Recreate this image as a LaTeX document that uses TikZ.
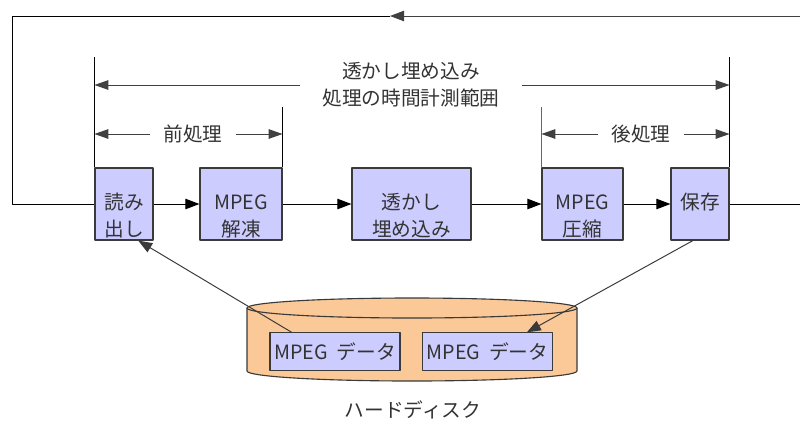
\documentclass[tikz,border=0pt]{standalone}
\usepackage{fontspec}
\setmainfont{Noto Sans CJK JP}
\usetikzlibrary{arrows.meta,calc}
\definecolor{boxfill}{HTML}{CCCCFF}
\definecolor{diskfill}{HTML}{FBC898}
\definecolor{edge}{HTML}{3A3A3A}
\begin{document}
\begin{tikzpicture}[x=0.025cm, y=-0.025cm, line join=round,
	font=\fontsize{14}{19}\selectfont, text=black!80,
	box/.style={draw=edge, fill=boxfill, line width=0.8pt, minimum height=1.8cm, align=center, inner sep=0pt},
	databox/.style={draw=edge, fill=boxfill, line width=0.8pt, minimum width=3.25cm, minimum height=0.93cm, inner sep=0pt},
	flow/.style={-{Triangle[length=0.35cm, width=0.26cm]}, line width=0.7pt},
	dim/.style={{Triangle[length=0.35cm, width=0.24cm]}-, line width=0.7pt, black!75},
	tick/.style={line width=0.7pt}]
	
	\useasboundingbox (0,0) rectangle (800,423);
	
	% Khối xử lý
	\foreach \boxname/\boxx/\boxw/\lineA/\lineB in {
		read/124/1.45/読み/出し,
		dec/241/2.05/MPEG/解凍,
		wm/411.5/2.975/透かし/埋め込み,
		comp/582.5/2.025/MPEG/圧縮,
		save/700/1.45/保存/{}
	}{
		\node[box, minimum width=\boxw cm] (\boxname) at (\boxx,204) {\rule{0pt}{28pt}\lineA\\\vphantom{出}\lineB};
	}
	\draw[flow] (read) -- (dec);
	\draw[flow] (dec) -- (wm);
	\draw[flow] (wm) -- (comp);
	\draw[flow] (comp) -- (save);
	
	% Vạch giới hạn
	\draw[tick] (read.north west) -- ++(0,-110);
	\draw[tick] (save.north east) -- ++(0,-110);
	\draw[tick] (dec.north east) -- ++(0,-60);
	\draw[tick, black!60] (comp.north west) -- ++(0,-60);
	
	% Khoảng đo
	\node[align=center, inner xsep=0.55cm] (range) at (411,85) {透かし埋め込み\\処理の時間計測範囲};
	\draw[dim] (read.north west |- range.west) -- (range.west);
	\draw[dim] (save.north east |- range.east) -- (range.east);
	\node[inner xsep=0.33cm] (pre) at (193,134) {前処理};
	\draw[dim] (read.north west |- pre.west) -- (pre.west);
	\draw[dim] (dec.north east |- pre.east) -- (pre.east);
	\node[inner xsep=0.33cm] (post) at (641,134) {後処理};
	\draw[dim] (comp.north west |- post.west) -- (post.west);
	\draw[dim] (save.north east |- post.east) -- (post.east);
	
	% Vòng lặp
	\coordinate (loopTR) at (800,16);
	\coordinate (loopMid) at (390,16);
	\coordinate (loopTL) at (12,16);
	\coordinate (loopBR) at (800,204);
	\draw[line width=0.7pt] (save.east) -- (loopBR);
	\draw[flow, black!75] (loopTR) -- (loopMid);
	\draw[line width=0.7pt] (loopMid) -- (loopTL) |- (read.west);
	
	% Đĩa cứng
	\draw[fill=diskfill, draw=edge, line width=0.8pt]
		(247,308) -- (247,371) arc (180:0:165 and 10) -- (577,308) arc (0:-180:165 and 10) -- cycle;
	\draw[edge, line width=0.8pt] (247,308) arc (180:0:165 and 10);
	\node[databox] (datL) at (335,351.5) {MPEG\ \ データ};
	\node[databox] (datR) at (487.5,351.5) {MPEG\ \ データ};
	\node (disk) at (413,410) {ハードディスク};
	
	\draw[flow, edge] ($(datL.north west)!0.17!(datL.north east)$) -- ($(read.south west)!0.74!(read.south east)$);
	\draw[flow, edge] ($(save.south west)!0.38!(save.south east)$) -- ($(datR.north west)!0.8!(datR.north east)$);
	
\end{tikzpicture}
\end{document}
